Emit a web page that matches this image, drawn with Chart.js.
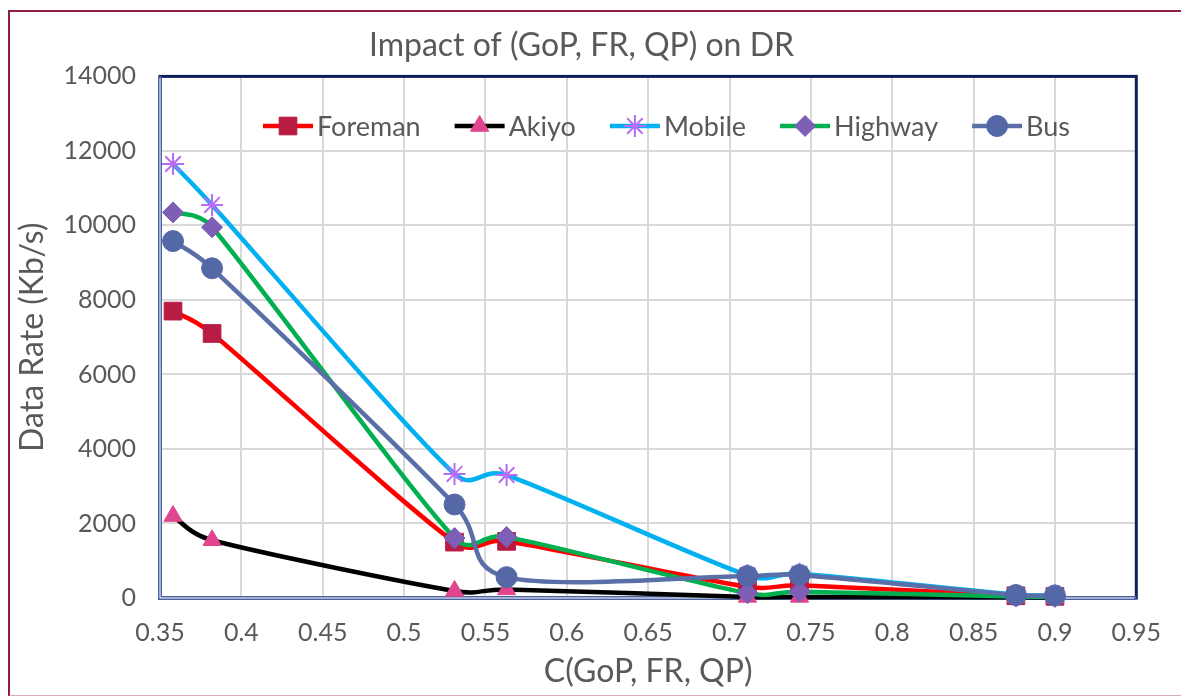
<!DOCTYPE html>
<html>
<head>
<title>Impact of (GoP, FR, QP) on DR</title>
<script src="https://cdn.jsdelivr.net/npm/chart.js"></script>
<style>
  html, body { margin: 0; padding: 0; background: #fff; }
  #wrap { position: relative; width: 1181px; height: 696px; overflow: hidden; }
  #frame { position: absolute; left: 8px; top: 10px; width: 1200px; height: 683px;
           border-left: 2px solid #8E1F3F; border-top: 2px solid #8E1F3F; border-bottom: 2px solid #D9A9B6; }
  #myChart { position: absolute; left: 0; top: 0; }
</style>
</head>
<body>
<div id="wrap">
  <div id="frame"></div>
  <canvas id="myChart" width="1181" height="696"></canvas>
</div>
<script>
// C(GoP, FR, QP) values
var cValues = [0.358, 0.382, 0.531, 0.563, 0.711, 0.743, 0.876, 0.9];

// data rate in Kb/s per sequence
var foreman = [7700, 7100, 1500, 1520, 300, 340, 60, 45];
var akiyo   = [2200, 1550, 190, 230, 30, 30, 20, 15];
var mobile  = [11650, 10550, 3330, 3300, 610, 650, 90, 70];
var highway = [10350, 9950, 1610, 1640, 130, 170, 40, 30];
var bus     = [9580, 8850, 2510, 560, 590, 620, 80, 70];

var seriesNames = ['Foreman', 'Akiyo', 'Mobile', 'Highway', 'Bus'];

function pts(vals) {
  return vals.map(function (v, i) { return { x: cValues[i], y: v }; });
}

var FONT = 'Lato, "Open Sans", sans-serif';
var TXT = '#595959';

// excel style smoothing: handle = chord/6, capped at half of the adjacent segment
var excelSmooth = {
  id: 'excelSmooth',
  beforeDatasetsDraw: function (chart) {
    chart.getSortedVisibleDatasetMetas().forEach(function (meta) {
      meta.dataset.updateControlPoints(chart.chartArea, 'x');
      var p = meta.data, n = p.length;
      for (var i = 0; i < n; i++) {
        var prev = p[Math.max(i - 1, 0)], next = p[Math.min(i + 1, n - 1)];
        var tx = next.x - prev.x, ty = next.y - prev.y;
        var d = Math.hypot(tx, ty) || 1;
        var ux = tx / d, uy = ty / d;
        var dPrev = i > 0 ? Math.hypot(p[i].x - prev.x, p[i].y - prev.y) : 0;
        var dNext = i < n - 1 ? Math.hypot(next.x - p[i].x, next.y - p[i].y) : 0;
        var hp = Math.min(d / 6, dPrev / 2), hn = Math.min(d / 6, dNext / 2);
        p[i].cp1x = p[i].x - ux * hp; p[i].cp1y = p[i].y - uy * hp;
        p[i].cp2x = p[i].x + ux * hn; p[i].cp2y = p[i].y + uy * hn;
      }
    });
  }
};

// legend with line + marker, drawn inside the plot like the excel one
var lineLegend = {
  id: 'lineLegend',
  afterDraw: function (chart) {
    var ctx = chart.ctx;
    var x = chart.chartArea.left + 103;
    var y = 126;
    ctx.save();
    ctx.font = '27px ' + FONT;
    ctx.textBaseline = 'middle';
    chart.data.datasets.forEach(function (ds) {
      ctx.strokeStyle = ds.borderColor;
      ctx.lineWidth = ds.borderWidth;
      ctx.beginPath();
      ctx.moveTo(x, y);
      ctx.lineTo(x + 50, y);
      ctx.stroke();
      ctx.fillStyle = ds.pointBackgroundColor;
      ctx.strokeStyle = ds.pointBorderColor;
      ctx.lineWidth = ds.pointBorderWidth;
      Chart.helpers.drawPoint(ctx, {
        pointStyle: ds.pointStyle, radius: ds.pointRadius, rotation: 0,
        borderWidth: ds.pointBorderWidth
      }, x + 25, y);
      ctx.fillStyle = TXT;
      ctx.fillText(ds.label, x + 54, y + 1);
      x += 54 + ctx.measureText(ds.label).width + 34;
    });
    ctx.restore();
  }
};

// plot area frame
var plotFrame = {
  id: 'plotFrame',
  beforeDatasetsDraw: function (chart) {
    var a = chart.chartArea, ctx = chart.ctx;
    ctx.save();
    ctx.strokeStyle = '#0E1F5B';
    ctx.lineWidth = 3;
    ctx.strokeRect(a.left, a.top, a.right - a.left, a.bottom - a.top);
    ctx.strokeStyle = '#4A62A0';
    ctx.lineWidth = 4;
    ctx.beginPath();
    ctx.moveTo(a.left, a.top);
    ctx.lineTo(a.left, a.bottom);
    ctx.lineTo(a.right, a.bottom);
    ctx.stroke();
    ctx.strokeStyle = '#ffffff';
    ctx.lineWidth = 1;
    ctx.beginPath();
    ctx.moveTo(a.left, a.top + 2);
    ctx.lineTo(a.left, a.bottom);
    ctx.lineTo(a.right - 2, a.bottom);
    ctx.stroke();
    ctx.restore();
  }
};

function mk(i, vals, line, style, radius, fill, edge, edgeW, order) {
  return {
    label: seriesNames[i],
    data: pts(vals),
    borderColor: line,
    borderWidth: 4.5,
    pointStyle: style,
    pointRadius: radius,
    pointBackgroundColor: fill,
    pointBorderColor: edge,
    pointBorderWidth: edgeW,
    tension: 0.4,
    clip: false,
    order: order
  };
}

const ctx = document.getElementById('myChart');
new Chart(ctx, {
  type: 'line',
  data: {
    datasets: [
      mk(0, foreman, '#FF0000', 'rect', 12.5, '#B71C45', '#B71C45', 1, 4),
      mk(1, akiyo, '#000000', 'triangle', 10.5, '#E0458E', '#E0458E', 1, 3),
      mk(2, mobile, '#00B0F0', 'star', 11, '#B86CF5', '#B86CF5', 2, 2),
      mk(3, highway, '#00B050', 'rectRot', 10.5, '#7F5FB6', '#7F5FB6', 1, 1),
      mk(4, bus, '#5A6EA8', 'circle', 10.5, '#5468A8', '#5468A8', 1, 0)
    ]
  },
  options: {
    responsive: false,
    animation: false,
    layout: { padding: { top: 0, right: 38, bottom: 0, left: 20 } },
    plugins: {
      legend: { display: false },
      tooltip: { enabled: false },
      title: {
        display: true,
        text: 'Impact of (GoP, FR, QP) on DR',
        color: TXT,
        font: { family: FONT, size: 32, weight: 'normal' },
        padding: { top: 26, bottom: 12 }
      }
    },
    scales: {
      x: {
        type: 'linear',
        min: 0.35,
        max: 0.95,
        afterFit: function (s) { s.height = 98; },
        ticks: {
          stepSize: 0.05,
          color: TXT,
          padding: 20,
          font: { family: FONT, size: 25 },
          callback: function (v) { return String(+v.toFixed(2)); }
        },
        grid: { color: '#D9D9D9', lineWidth: 2, drawTicks: false },
        border: { display: false },
        title: {
          display: true,
          text: 'C(GoP, FR, QP)',
          color: TXT,
          font: { family: FONT, size: 32 },
          padding: { top: 0, bottom: 5 }
        }
      },
      y: {
        min: 0,
        max: 14000,
        afterFit: function (s) { s.width = 140; },
        ticks: {
          stepSize: 2000,
          color: TXT,
          padding: 24,
          font: { family: FONT, size: 25 },
          callback: function (v) { return String(v); }
        },
        grid: { color: '#D9D9D9', lineWidth: 2, drawTicks: false },
        border: { display: false },
        title: {
          display: true,
          text: 'Data Rate (Kb/s)',
          color: TXT,
          font: { family: FONT, size: 32 },
          padding: { top: -7, bottom: 0 }
        }
      }
    }
  },
  plugins: [plotFrame, excelSmooth, lineLegend]
});
</script>
</body>
</html>
